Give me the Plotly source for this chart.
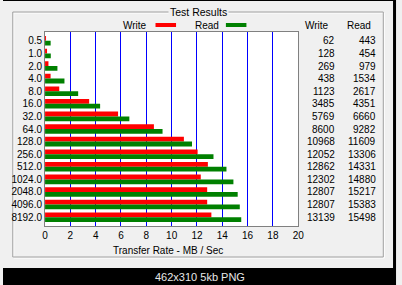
import plotly.graph_objects as go

block_sizes = ["0.5", "1.0", "2.0", "4.0", "8.0", "16.0", "32.0", "64.0", "128.0",
               "256.0", "512.0", "1024.0", "2048.0", "4096.0", "8192.0"]
write_kb = [62, 128, 269, 438, 1123, 3485, 5769, 8600, 10968, 12052, 12862, 12302, 12807, 12807, 13139]
read_kb = [443, 454, 979, 1534, 2617, 4351, 6660, 9282, 11609, 13306, 14331, 14880, 15217, 15383, 15498]
x_ticks = [0, 2, 4, 6, 8, 10, 12, 14, 16, 18, 20]

W, H = 402, 285
FONT = "Liberation Sans"
FS = 10
BG = "#F0F0F0"

def px(x):
    return x / W

def py(y):
    return 1 - y / H

fig = go.Figure()
fig.add_trace(go.Bar(y=block_sizes, x=[v / 1000 for v in write_kb], orientation="h",
                     marker=dict(color="#FF0000", line=dict(width=0)), name="Write"))
fig.add_trace(go.Bar(y=block_sizes, x=[v / 1000 for v in read_kb], orientation="h",
                     marker=dict(color="#008000", line=dict(width=0)), name="Read"))

shapes = []
annotations = []

def txt(text, x, y, xanchor="center", yref="paper", **kw):
    d = dict(text=text, xref="paper", yref=yref, x=x, y=y, xanchor=xanchor, yanchor="middle",
             showarrow=False, font=dict(family=FONT, size=FS, color="#000000"))
    d.update(kw)
    annotations.append(d)

# group box (etched)
shapes.append(dict(type="rect", xref="paper", yref="paper", x0=px(11), x1=px(390), y0=py(258), y1=py(13),
                   line=dict(color="#FFFFFF", width=1), layer="below"))
shapes.append(dict(type="rect", xref="paper", yref="paper", x0=px(10), x1=px(389), y0=py(257), y1=py(12),
                   line=dict(color="#A0A0A0", width=1), layer="below"))
# bottom black caption band
shapes.append(dict(type="rect", xref="paper", yref="paper", x0=0, x1=1, y0=0, y1=py(268),
                   line=dict(width=0), fillcolor="#000000", layer="above"))
# outer dark frame top/right
shapes.append(dict(type="line", xref="paper", yref="paper", x0=0, x1=1, y0=py(0.5), y1=py(0.5),
                   line=dict(color="#000000", width=1)))
shapes.append(dict(type="line", xref="paper", yref="paper", x0=px(400.5), x1=px(400.5), y0=0, y1=1,
                   line=dict(color="#000000", width=3)))

txt("Test Results", px(200), py(12), bgcolor=BG, borderpad=1, font=dict(family=FONT, size=10.5, color="#000000"))
# legend
txt("Write", px(149), py(25), xanchor="right")
shapes.append(dict(type="rect", xref="paper", yref="paper", x0=px(156), x1=px(177), y0=py(27), y1=py(23),
                   line=dict(width=0), fillcolor="#FF0000"))
txt("Read", px(223), py(25), xanchor="right")
shapes.append(dict(type="rect", xref="paper", yref="paper", x0=px(228), x1=px(249), y0=py(27), y1=py(23),
                   line=dict(width=0), fillcolor="#008000"))
# table headers
txt("Write", px(321), py(25))
txt("Read", px(364), py(25))
for i, (w, r) in enumerate(zip(write_kb, read_kb)):
    txt(str(w), px(342), i, xanchor="right", yref="y")
    txt(str(r), px(384), i, xanchor="right", yref="y")
# axis title
txt("Transfer Rate - MB / Sec", px(169), py(250))
# caption
txt("462x310 5kb PNG", 0.5, py(277),
    font=dict(family="Liberation Sans", size=11, color="#E8E8E8"))

fig.update_layout(
    width=W, height=H,
    margin=dict(l=0, r=0, t=0, b=0),
    paper_bgcolor=BG, plot_bgcolor="#FFFFFF",
    barmode="group", bargap=0.24, bargroupgap=0,
    showlegend=False,
    font=dict(family=FONT, size=FS, color="#000000"),
    shapes=shapes, annotations=annotations,
    xaxis=dict(domain=[px(43), px(302)], range=[0, 20], tickmode="array", tickvals=x_ticks,
               ticktext=[str(t) for t in x_ticks],
               showgrid=True, gridcolor="#0000FF", gridwidth=1, zeroline=False,
               showline=True, mirror=True, linecolor="#808080", linewidth=1,
               ticks="", tickfont=dict(family=FONT, size=FS), fixedrange=True),
    yaxis=dict(domain=[py(226), py(32)], type="category", range=[14.7, -0.7],
               tickmode="array", tickvals=list(range(len(block_sizes))), ticktext=block_sizes,
               showgrid=False, zeroline=False, showline=True, mirror=True, linecolor="#808080", linewidth=1,
               ticks="", tickfont=dict(family=FONT, size=FS), fixedrange=True),
)

fig.write_html("out.html")
